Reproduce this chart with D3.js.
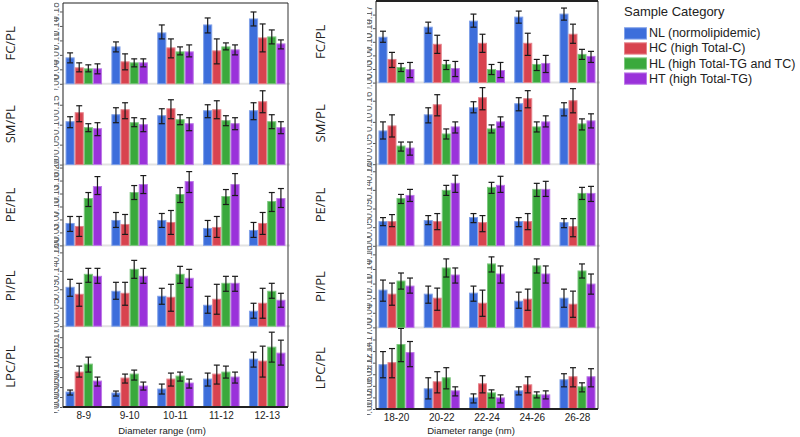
<!DOCTYPE html>
<html>
<head>
<meta charset="utf-8">
<script src="https://cdn.jsdelivr.net/npm/d3@7"></script>
<style>
  html, body { margin: 0; padding: 0; background: #fff; }
  svg { display: block; }
</style>
</head>
<body>
<svg id="chart" width="800" height="437"></svg>
<script>
// ---------------- DATA ----------------
const metrics = ["FC/PL", "SM/PL", "PE/PL", "PI/PL", "LPC/PL"];
const leftGroups = ["8-9", "9-10", "10-11", "11-12", "12-13"];
const rightGroups = ["18-20", "20-22", "22-24", "24-26", "26-28"];
const seriesNames = ["NL (normolipidemic)", "HC (high Total-C)", "HL (high Total-TG and TC)", "HT (high Total-TG)"];
const legendTitle = "Sample Category";
const xAxisTitle = "Diameter range (nm)";

// per group: [mean, errLow, errHigh] for NL, HC, HL, HT (relative units)
const L_FC = [
  [[26,21,31],[16,12,21],[15,12,19],[15,10,20]],
  [[37,32,42],[22,14,30],[21,17,25],[21,17,25]],
  [[51,45,59],[36,26,45],[32,29,37],[32,27,39]],
  [[59,51,66],[33,20,45],[37,34,41],[34,29,39]],
  [[65,58,72],[46,32,60],[47,40,54],[40,35,44]]
];
const L_SM = [
  [[43,37,48],[52,43,59],[37,33,41],[36,29,42]],
  [[50,42,57],[55,46,62],[42,38,47],[40,33,46]],
  [[49,41,56],[56,46,65],[45,40,50],[41,34,47]],
  [[54,47,60],[55,46,64],[44,39,49],[41,35,47]],
  [[54,45,62],[63,52,74],[43,36,50],[37,31,43]]
];
const L_PE = [
  [[22,14,29],[19,9,29],[47,39,53],[59,51,69]],
  [[25,18,33],[21,11,31],[53,46,60],[61,52,70]],
  [[25,18,32],[23,11,35],[51,43,58],[64,53,74]],
  [[17,9,25],[18,8,29],[49,41,56],[61,50,72]],
  [[15,8,23],[22,11,33],[44,34,53],[47,38,57]]
];
const L_PI = [
  [[39,30,47],[32,20,43],[52,44,58],[50,43,58]],
  [[35,27,44],[33,21,44],[57,48,66],[50,43,58]],
  [[30,22,38],[29,15,42],[52,43,60],[48,39,57]],
  [[21,13,30],[27,12,42],[43,35,50],[43,35,50]],
  [[15,8,23],[23,8,38],[35,28,43],[26,19,33]]
];
const L_LPC = [
  [[15,12,17],[35,30,41],[43,35,50],[26,21,30]],
  [[14,11,16],[29,24,33],[33,27,37],[21,17,25]],
  [[18,13,23],[28,21,34],[31,26,35],[24,19,28]],
  [[28,21,34],[33,23,42],[35,29,41],[30,24,35]],
  [[48,40,55],[46,30,61],[60,45,75],[54,42,67]]
];
const R_FC = [
  [[45,40,51],[23,15,30],[15,11,19],[13,5,20]],
  [[55,49,60],[38,29,47],[18,13,22],[14,6,21]],
  [[61,55,68],[39,30,48],[13,8,18],[12,5,20]],
  [[65,59,71],[39,27,49],[18,12,23],[19,10,27]],
  [[68,62,74],[48,39,58],[28,23,33],[26,20,31]]
];
const R_SM = [
  [[33,25,42],[38,27,49],[18,13,22],[16,9,22]],
  [[49,41,56],[59,48,69],[30,25,35],[37,31,42]],
  [[56,51,62],[66,54,76],[35,31,39],[42,37,47]],
  [[60,53,66],[65,56,73],[37,32,42],[42,37,48]],
  [[55,48,61],[63,51,75],[40,34,45],[43,36,50]]
];
const R_PE = [
  [[24,20,28],[24,19,31],[47,42,51],[50,44,56]],
  [[25,21,30],[24,16,32],[55,50,60],[62,53,70]],
  [[28,23,32],[23,14,30],[58,52,63],[60,53,69]],
  [[24,19,28],[24,16,32],[56,49,62],[56,49,64]],
  [[23,18,27],[19,9,27],[52,46,58],[52,44,59]]
];
const R_PI = [
  [[37,26,47],[33,22,44],[46,38,54],[41,34,49]],
  [[33,24,41],[29,17,39],[59,50,68],[52,44,59]],
  [[34,26,41],[24,11,37],[63,55,70],[53,44,61]],
  [[26,19,35],[28,17,38],[61,54,68],[53,44,61]],
  [[29,20,38],[23,10,36],[56,49,63],[43,33,53]]
];
const R_LPC = [
  [[44,31,57],[46,31,60],[64,47,80],[56,42,67]],
  [[20,10,31],[27,16,37],[31,20,41],[18,13,22]],
  [[11,6,15],[25,16,33],[16,11,19],[11,6,14]],
  [[18,14,22],[24,16,32],[14,11,17],[14,10,18]],
  [[29,22,35],[32,22,41],[22,17,26],[32,22,40]]
];
// y tick step per row (relative units)
const L_tickSteps = [14.5, 20, 13, 18.5, 10];
const R_tickSteps = [13.5, 21, 18.5, 14.5, 11.5];

// ---------------- STYLE ----------------
const colors = ["#3d6edb", "#d8434f", "#3aa93c", "#9a32da"];
const FONT = "'Liberation Sans', Arial, sans-serif";

const svg = d3.select("#chart");
let clipCount = 0;

function drawPanel(cfg) {
  const g = svg.append("g");
  const rows = d3.scaleBand().domain(metrics).range([cfg.top, cfg.bottom]).padding(0);
  const x = d3.scaleBand().domain(cfg.groups).range([cfg.x0, cfg.x1])
    .paddingInner(0.204).paddingOuter(0.055);
  const xi = d3.scaleBand().domain(d3.range(4)).range([0, x.bandwidth()]).padding(0);
  const rowH = rows.bandwidth();

  metrics.forEach((m, ri) => {
    const rowTop = rows(m), rowBottom = rowTop + rowH;
    const y = d3.scaleLinear().domain([0, 81]).range([rowBottom, rowTop]);
    const data = cfg.data[ri];

    if (ri < metrics.length - 1) {
      g.append("line").attr("x1", cfg.x0).attr("x2", cfg.x1 + 2)
        .attr("y1", rowBottom).attr("y2", rowBottom)
        .attr("stroke", "#e2e2e2").attr("stroke-width", 2);
    }

    // y axis ticks with labels clipped to a narrow strip
    const step = cfg.tickSteps[ri];
    const tv = d3.range(0, 80, step);
    const ax = d3.axisLeft(y).tickValues(tv).tickSize(3)
      .tickFormat(d => d3.format(".2f")(d / 400));
    const id = "ac" + (clipCount++);
    svg.append("clipPath").attr("id", id).append("rect")
      .attr("x", -9).attr("y", rowTop - 6).attr("width", 8.6).attr("height", rowH + 12);
    const axg = g.append("g").attr("transform", `translate(${cfg.x0},0)`)
      .attr("clip-path", `url(#${id})`).call(ax);
    axg.select(".domain").remove();
    axg.selectAll(".tick line").attr("stroke", "#555");
    axg.selectAll(".tick text")
      .attr("font-family", FONT).attr("font-size", 10).attr("fill", "#666")
      .attr("transform", "rotate(-90)").attr("x", 0).attr("y", -4)
      .attr("dy", "0").attr("text-anchor", "middle");

    // bars
    cfg.groups.forEach((grp, gi) => {
      const gg = g.append("g").attr("transform", `translate(${x(grp)},0)`);
      data[gi].forEach((v, si) => {
        const c = colors[si];
        gg.append("rect")
          .attr("x", xi(si) + 0.5).attr("width", xi.bandwidth() - 1)
          .attr("y", y(v[0])).attr("height", y(0) - y(v[0]))
          .attr("fill", c)
          .attr("stroke", d3.interpolateRgb(c, "#ffffff")(0.35)).attr("stroke-width", 1);
      });
      data[gi].forEach((v, si) => {
        const cx = xi(si) + xi.bandwidth() / 2;
        gg.append("line").attr("x1", cx).attr("x2", cx)
          .attr("y1", y(v[1])).attr("y2", y(v[2])).attr("stroke", "#1a1a1a").attr("stroke-width", 1.2);
        [v[1], v[2]].forEach(e => {
          gg.append("line").attr("x1", cx - 3).attr("x2", cx + 3)
            .attr("y1", y(e)).attr("y2", y(e)).attr("stroke", "#1a1a1a").attr("stroke-width", 1.2);
        });
      });
    });

    // row label
    g.append("text")
      .attr("transform", `translate(${cfg.labelX},${rowTop + rowH / 2}) rotate(-90)`)
      .attr("text-anchor", "middle").attr("dominant-baseline", "central")
      .attr("font-family", "'Open Sans', sans-serif").attr("font-size", 13).attr("fill", "#222")
      .text(m);
  });

  // left axis line
  g.append("line").attr("x1", cfg.x0).attr("x2", cfg.x0)
    .attr("y1", cfg.top).attr("y2", cfg.bottom).attr("stroke", "#444").attr("stroke-width", 1.2);
  // right border
  g.append("line").attr("x1", cfg.x1).attr("x2", cfg.x1)
    .attr("y1", cfg.top).attr("y2", cfg.bottom).attr("stroke", "#555").attr("stroke-width", 1.2);
  // top border
  g.append("line").attr("x1", cfg.x0).attr("x2", cfg.x1)
    .attr("y1", cfg.top).attr("y2", cfg.top).attr("stroke", "#222").attr("stroke-width", cfg.topW);
  // bottom axis
  const xa = d3.axisBottom(x).tickSize(0).tickPadding(5);
  const xg = g.append("g").attr("transform", `translate(0,${cfg.bottom})`).call(xa);
  xg.select(".domain").attr("stroke", "#222").attr("stroke-width", 2)
    .attr("d", `M${cfg.x0},0H${cfg.x1}`);
  xg.selectAll(".tick text").attr("font-family", FONT).attr("font-size", 10).attr("fill", "#222");

  g.append("text").attr("x", cfg.titleX).attr("y", 434)
    .attr("text-anchor", "middle").attr("font-family", FONT).attr("font-size", 9.5).attr("fill", "#222")
    .text(xAxisTitle);
}

drawPanel({ id: "L", x0: 63, x1: 288, top: 3, bottom: 407, groups: leftGroups,
  data: [L_FC, L_SM, L_PE, L_PI, L_LPC], tickSteps: L_tickSteps, labelX: 10, titleX: 162, topW: 1.2 });
drawPanel({ id: "R", x0: 376, x1: 598, top: 1, bottom: 409, groups: rightGroups,
  data: [R_FC, R_SM, R_PE, R_PI, R_LPC], tickSteps: R_tickSteps, labelX: 320, titleX: 471, topW: 2 });

// legend
const lg = svg.append("g").attr("transform", "translate(624,0)");
lg.append("text").attr("x", 0).attr("y", 16).attr("font-family", FONT).attr("font-size", 13)
  .attr("fill", "#222").text(legendTitle);
const ly = d3.scaleBand().domain(seriesNames).range([24, 88]).padding(0.25);
seriesNames.forEach((s, i) => {
  lg.append("rect").attr("x", 0.5).attr("y", ly(s)).attr("width", 22).attr("height", ly.bandwidth())
    .attr("fill", colors[i]).attr("stroke", d3.interpolateRgb(colors[i], "#ffffff")(0.35));
  lg.append("text").attr("x", 25).attr("y", ly(s) + ly.bandwidth() / 2).attr("dominant-baseline", "central")
    .attr("font-family", FONT).attr("font-size", 12.5).attr("fill", "#222").text(s);
});
</script>
</body>
</html>
